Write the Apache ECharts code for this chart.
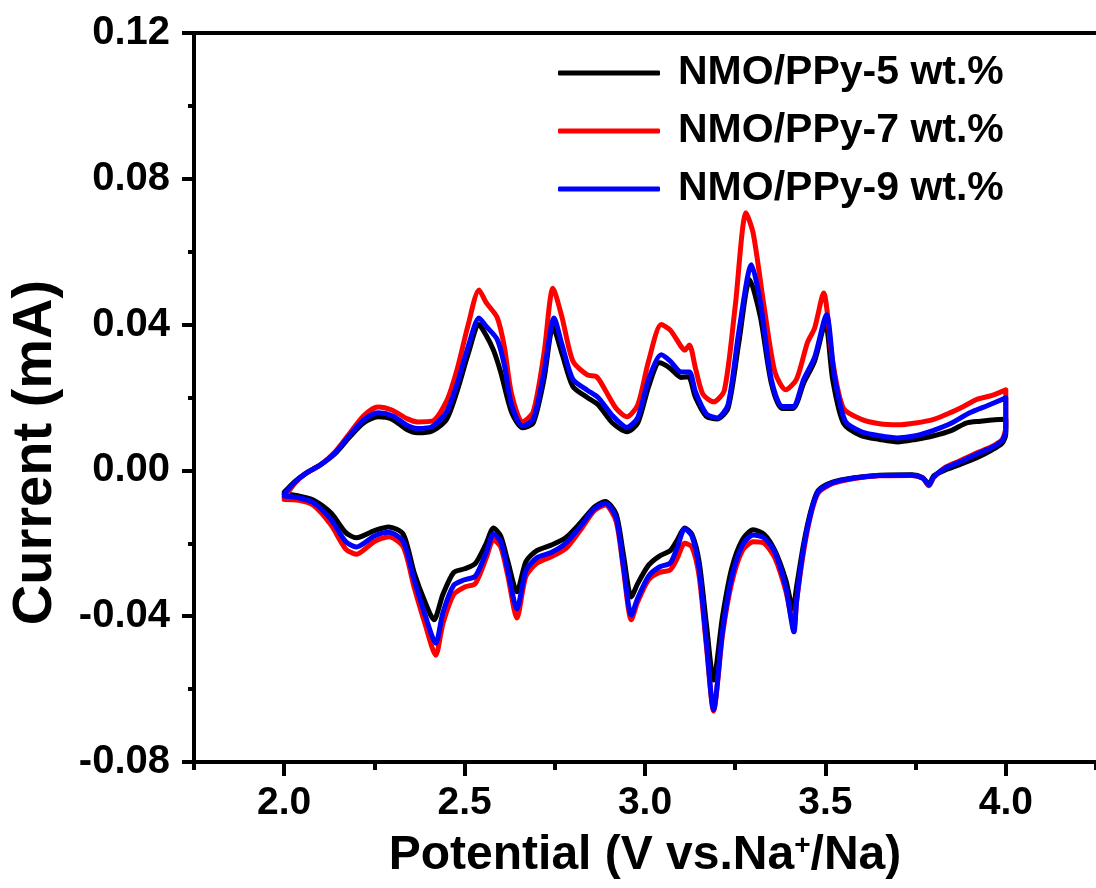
<!DOCTYPE html>
<html>
<head>
<meta charset="utf-8">
<script src="https://cdn.jsdelivr.net/npm/echarts@6/dist/echarts.min.js"></script>
<style>
html,body{margin:0;padding:0;background:#fff;}
#chart{width:1096px;height:888px;}
</style>
</head>
<body>
<div id="chart"></div>
<script>
// ---- data (Potential V, Current mA), anodic sweep then cathodic sweep ----
var seriesNames = ['NMO/PPy-5 wt.%', 'NMO/PPy-7 wt.%', 'NMO/PPy-9 wt.%'];
var seriesColors = ['#000000', '#ff0000', '#0000ff'];

var ppy5 = [
[2.00,-0.0060],[2.03,-0.0030],[2.06,-0.0008],[2.10,0.0015],[2.14,0.0045],[2.18,0.0090],[2.22,0.0130],[2.26,0.0147],[2.30,0.0140],[2.34,0.0112],[2.37,0.0103],[2.41,0.0108],[2.45,0.0140],[2.48,0.0220],[2.51,0.0320],[2.54,0.0400],[2.56,0.0370],[2.58,0.0330],[2.60,0.0270],[2.63,0.0160],[2.66,0.0117],[2.69,0.0130],[2.72,0.0250],[2.745,0.0394],[2.77,0.0320],[2.80,0.0230],[2.84,0.0200],[2.87,0.0180],[2.91,0.0130],[2.95,0.0106],[2.98,0.0130],[3.01,0.0230],[3.04,0.0295],[3.07,0.0280],[3.10,0.0255],[3.12,0.0257],[3.14,0.0200],[3.17,0.0148],[3.20,0.0141],[3.23,0.0170],[3.26,0.0350],[3.29,0.0523],[3.32,0.0420],[3.35,0.0240],[3.38,0.0170],[3.41,0.0170],[3.44,0.0240],[3.47,0.0300],[3.50,0.0405],[3.52,0.0250],[3.55,0.0130],[3.60,0.0095],[3.65,0.0085],[3.70,0.0078],[3.75,0.0085],[3.80,0.0095],[3.85,0.0110],[3.89,0.0130],[3.93,0.0135],[3.97,0.0139],[4.00,0.0140],
[4.00,0.0100],[3.99,0.0075],[3.96,0.0055],[3.92,0.0035],[3.87,0.0015],[3.83,0.0000],[3.80,-0.0015],[3.787,-0.0038],[3.77,-0.0020],[3.74,-0.0012],[3.65,-0.0013],[3.58,-0.0020],[3.52,-0.0032],[3.48,-0.0055],[3.46,-0.0110],[3.44,-0.0200],[3.42,-0.0320],[3.41,-0.0380],[3.39,-0.0300],[3.36,-0.0220],[3.33,-0.0175],[3.30,-0.0163],[3.27,-0.0190],[3.24,-0.0270],[3.215,-0.0400],[3.19,-0.0575],[3.17,-0.0420],[3.15,-0.0250],[3.13,-0.0175],[3.11,-0.0158],[3.09,-0.0190],[3.07,-0.0220],[3.04,-0.0235],[3.01,-0.0260],[2.98,-0.0310],[2.962,-0.0347],[2.94,-0.0230],[2.92,-0.0120],[2.89,-0.0085],[2.86,-0.0100],[2.82,-0.0145],[2.78,-0.0185],[2.74,-0.0205],[2.70,-0.0220],[2.67,-0.0250],[2.645,-0.0333],[2.62,-0.0250],[2.60,-0.0180],[2.58,-0.0158],[2.56,-0.0200],[2.53,-0.0255],[2.50,-0.0270],[2.47,-0.0280],[2.44,-0.0340],[2.415,-0.0410],[2.39,-0.0360],[2.36,-0.0280],[2.33,-0.0175],[2.29,-0.0155],[2.25,-0.0165],[2.20,-0.0185],[2.17,-0.0170],[2.13,-0.0117],[2.08,-0.0081],[2.04,-0.0070],[2.00,-0.0065]
];

var ppy7 = [
[2.00,-0.0075],[2.03,-0.0035],[2.06,-0.0008],[2.10,0.0015],[2.14,0.0050],[2.18,0.0100],[2.22,0.0150],[2.26,0.0174],[2.30,0.0165],[2.34,0.0142],[2.37,0.0133],[2.41,0.0135],[2.45,0.0190],[2.48,0.0280],[2.51,0.0400],[2.54,0.0495],[2.56,0.0460],[2.59,0.0420],[2.61,0.0340],[2.63,0.0210],[2.66,0.0133],[2.69,0.0160],[2.72,0.0320],[2.745,0.0500],[2.77,0.0420],[2.80,0.0300],[2.84,0.0262],[2.866,0.0257],[2.89,0.0220],[2.92,0.0170],[2.95,0.0147],[2.98,0.0180],[3.01,0.0300],[3.045,0.0400],[3.07,0.0385],[3.10,0.0340],[3.11,0.0330],[3.123,0.0344],[3.14,0.0280],[3.16,0.0210],[3.19,0.0188],[3.22,0.0220],[3.25,0.0450],[3.28,0.0707],[3.30,0.0650],[3.33,0.0450],[3.36,0.0270],[3.39,0.0221],[3.42,0.0250],[3.45,0.0350],[3.47,0.0390],[3.495,0.0487],[3.52,0.0300],[3.55,0.0170],[3.60,0.0140],[3.65,0.0128],[3.70,0.0125],[3.75,0.0130],[3.80,0.0140],[3.85,0.0160],[3.88,0.0174],[3.92,0.0195],[3.96,0.0205],[4.00,0.0221],
[4.00,0.0120],[3.99,0.0085],[3.96,0.0065],[3.92,0.0048],[3.87,0.0025],[3.83,0.0007],[3.80,-0.0020],[3.787,-0.0042],[3.77,-0.0022],[3.74,-0.0014],[3.65,-0.0015],[3.58,-0.0022],[3.52,-0.0036],[3.48,-0.0062],[3.46,-0.0120],[3.44,-0.0220],[3.42,-0.0360],[3.413,-0.0430],[3.39,-0.0330],[3.36,-0.0240],[3.33,-0.0200],[3.30,-0.0196],[3.27,-0.0220],[3.24,-0.0310],[3.215,-0.0450],[3.19,-0.0660],[3.17,-0.0480],[3.15,-0.0290],[3.13,-0.0210],[3.11,-0.0200],[3.09,-0.0240],[3.07,-0.0273],[3.04,-0.0280],[3.01,-0.0300],[2.98,-0.0360],[2.962,-0.0410],[2.94,-0.0270],[2.92,-0.0140],[2.89,-0.0095],[2.86,-0.0110],[2.82,-0.0165],[2.78,-0.0215],[2.74,-0.0237],[2.70,-0.0255],[2.67,-0.0290],[2.645,-0.0405],[2.62,-0.0290],[2.60,-0.0210],[2.58,-0.0190],[2.56,-0.0240],[2.53,-0.0310],[2.50,-0.0320],[2.47,-0.0340],[2.44,-0.0420],[2.42,-0.0507],[2.39,-0.0420],[2.36,-0.0320],[2.33,-0.0210],[2.29,-0.0182],[2.25,-0.0195],[2.20,-0.0230],[2.17,-0.0215],[2.13,-0.0150],[2.08,-0.0095],[2.04,-0.0082],[2.00,-0.0080]
];

var ppy9 = [
[2.00,-0.0065],[2.03,-0.0032],[2.06,-0.0008],[2.10,0.0015],[2.14,0.0047],[2.18,0.0095],[2.22,0.0138],[2.26,0.0158],[2.30,0.0150],[2.34,0.0124],[2.37,0.0115],[2.41,0.0120],[2.45,0.0160],[2.48,0.0240],[2.51,0.0340],[2.54,0.0418],[2.56,0.0395],[2.59,0.0360],[2.61,0.0290],[2.63,0.0180],[2.66,0.0122],[2.69,0.0140],[2.72,0.0270],[2.748,0.0418],[2.77,0.0345],[2.80,0.0250],[2.84,0.0220],[2.87,0.0200],[2.91,0.0150],[2.95,0.0118],[2.98,0.0145],[3.01,0.0250],[3.045,0.0317],[3.07,0.0300],[3.10,0.0270],[3.123,0.0270],[3.14,0.0215],[3.17,0.0155],[3.20,0.0144],[3.23,0.0180],[3.26,0.0380],[3.295,0.0564],[3.32,0.0460],[3.35,0.0250],[3.38,0.0175],[3.41,0.0175],[3.44,0.0250],[3.47,0.0310],[3.503,0.0427],[3.525,0.0260],[3.555,0.0135],[3.60,0.0106],[3.65,0.0095],[3.70,0.0089],[3.75,0.0095],[3.80,0.0110],[3.85,0.0130],[3.90,0.0158],[3.95,0.0178],[4.00,0.0199],
[4.00,0.0110],[3.99,0.0082],[3.96,0.0062],[3.92,0.0045],[3.87,0.0022],[3.83,0.0005],[3.80,-0.0018],[3.787,-0.0040],[3.77,-0.0021],[3.74,-0.0013],[3.65,-0.0014],[3.58,-0.0021],[3.52,-0.0034],[3.48,-0.0058],[3.46,-0.0115],[3.44,-0.0210],[3.42,-0.0360],[3.413,-0.0443],[3.39,-0.0320],[3.36,-0.0225],[3.33,-0.0185],[3.30,-0.0177],[3.27,-0.0205],[3.24,-0.0295],[3.215,-0.0440],[3.19,-0.0657],[3.17,-0.0470],[3.15,-0.0270],[3.13,-0.0180],[3.11,-0.0160],[3.09,-0.0210],[3.07,-0.0254],[3.04,-0.0265],[3.01,-0.0290],[2.98,-0.0350],[2.962,-0.0397],[2.94,-0.0260],[2.92,-0.0130],[2.89,-0.0090],[2.86,-0.0105],[2.82,-0.0155],[2.78,-0.0200],[2.74,-0.0225],[2.70,-0.0240],[2.67,-0.0275],[2.645,-0.0380],[2.62,-0.0275],[2.60,-0.0195],[2.58,-0.0175],[2.56,-0.0225],[2.53,-0.0290],[2.50,-0.0300],[2.47,-0.0315],[2.44,-0.0390],[2.42,-0.0474],[2.39,-0.0395],[2.36,-0.0300],[2.33,-0.0195],[2.29,-0.0170],[2.25,-0.0180],[2.20,-0.0210],[2.17,-0.0195],[2.13,-0.0135],[2.08,-0.0088],[2.04,-0.0075],[2.00,-0.0070]
];

var xMajorTicks = [2.0, 2.5, 3.0, 3.5, 4.0];
var xMinorTicks = [1.75, 2.25, 2.75, 3.25, 3.75, 4.25];

// ---- chart ----
var FONT = '"Liberation Sans", Arial, Helvetica, sans-serif';
var chart = echarts.init(document.getElementById('chart'), null, {renderer: 'canvas'});
var allData = [ppy5, ppy7, ppy9];

var option = {
  backgroundColor: '#ffffff',
  animation: false,
  textStyle: {fontFamily: FONT},
  grid: {left: 189, top: 33, right: -8, bottom: 126, containLabel: false},
  legend: {
    orient: 'vertical',
    left: 553,
    top: 45,
    itemWidth: 102,
    itemHeight: 5,
    itemGap: 12,
    data: seriesNames.map(function (n) { return {name: n, icon: 'roundRect'}; }),
    textStyle: {fontFamily: FONT, fontSize: 41, fontWeight: 'bold', color: '#000', lineHeight: 46, padding: [0, 0, 0, 13]}
  },
  xAxis: [
    {
      type: 'value', position: 'bottom', min: 1.75, max: 4.25,
      axisLine: {show: true, onZero: false, lineStyle: {color: '#000', width: 4}},
      axisTick: {show: true, inside: false, length: 14, lineStyle: {width: 4, color: '#000'}, customValues: xMajorTicks},
      axisLabel: {show: true, customValues: xMajorTicks, margin: 22, fontFamily: FONT, fontSize: 39, fontWeight: 'bold', color: '#000',
        formatter: function (v) { return v.toFixed(1); }},
      splitLine: {show: false},
      name: '{a|Potential (V vs.Na}{s|+}{a|/Na)}',
      nameLocation: 'middle', nameGap: 70,
      nameTextStyle: {
        rich: {
          a: {fontFamily: FONT, fontSize: 48, fontWeight: 'bold', color: '#000'},
          s: {fontFamily: FONT, fontSize: 28, fontWeight: 'bold', color: '#000', verticalAlign: 'top', padding: [0, 0, 16, 0]}
        }
      }
    },
    {
      type: 'value', position: 'bottom', min: 1.75, max: 4.25,
      axisLine: {show: false, onZero: false},
      axisTick: {show: true, inside: false, length: 8, lineStyle: {width: 4, color: '#000'}, customValues: xMinorTicks},
      axisLabel: {show: false},
      splitLine: {show: false}
    },
    {
      type: 'value', position: 'top', min: 1.75, max: 4.25,
      axisLine: {show: true, onZero: false, lineStyle: {color: '#000', width: 4}},
      axisTick: {show: false}, axisLabel: {show: false}, splitLine: {show: false}
    }
  ],
  yAxis: [
    {
      type: 'value', position: 'left', min: -0.08, max: 0.12, interval: 0.04,
      axisLine: {show: true, onZero: false, lineStyle: {color: '#000', width: 4}},
      axisTick: {show: true, inside: false, length: 12, lineStyle: {width: 4, color: '#000'}},
      minorTick: {show: true, splitNumber: 2, length: 6, lineStyle: {width: 4, color: '#000'}},
      axisLabel: {show: true, margin: 24, fontFamily: FONT, fontSize: 40, fontWeight: 'bold', color: '#000',
        formatter: function (v) { return (Math.abs(v) < 1e-9 ? 0 : v).toFixed(2); }},
      splitLine: {show: false},
      name: 'Current (mA)',
      nameLocation: 'middle', nameGap: 130,
      nameTextStyle: {fontFamily: FONT, fontSize: 56, fontWeight: 'bold', color: '#000', padding: [0, 110, 0, 0]}
    }
  ],
  series: allData.map(function (d, i) {
    return {
      name: seriesNames[i],
      type: 'line',
      xAxisIndex: 0, yAxisIndex: 0,
      data: d,
      showSymbol: false,
      symbol: 'none',
      smooth: 0.25,
      clip: true,
      lineStyle: {color: seriesColors[i], width: 5, cap: 'round', join: 'round'},
      itemStyle: {color: seriesColors[i]},
      z: 2 + i
    };
  })
};
chart.setOption(option);
</script>
</body>
</html>
